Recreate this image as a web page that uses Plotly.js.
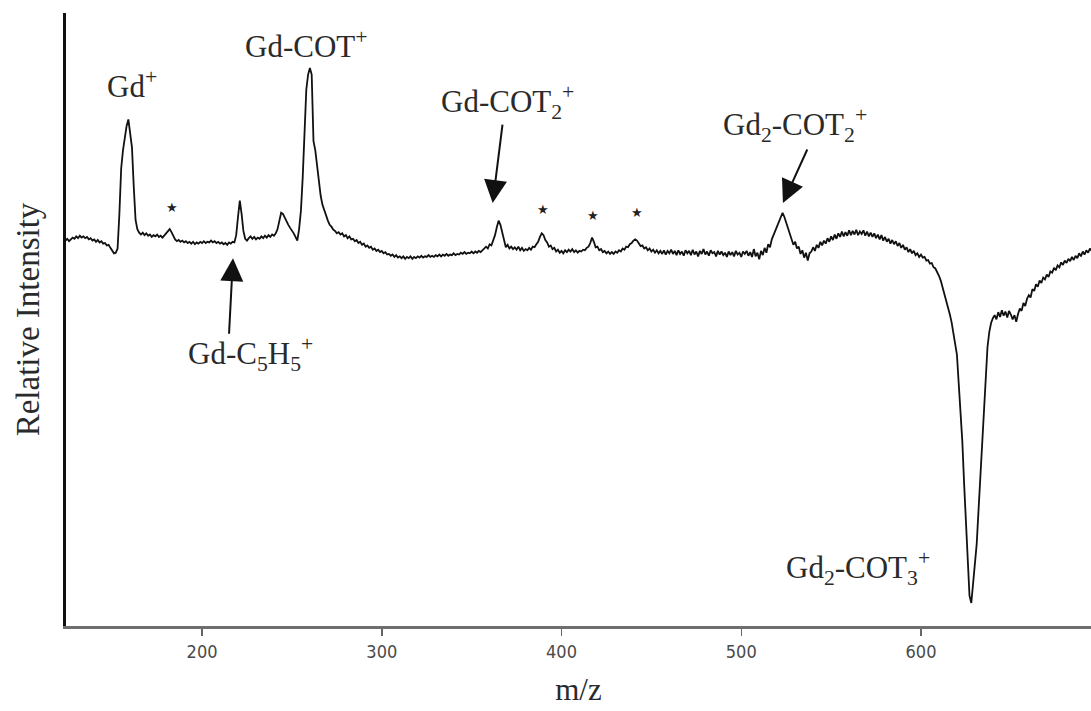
<!DOCTYPE html>
<html>
<head>
<meta charset="utf-8">
<script src="https://cdn.plot.ly/plotly-3.0.1.min.js"></script>
<style>
  html, body { margin: 0; padding: 0; background: #ffffff; }
  #chart { width: 1091px; height: 711px; }
</style>
</head>
<body>
<div id="chart"></div>
<script>
// Mass spectrum: m/z channel positions
const mz = [
  124, 125, 126, 127, 128, 129,
  130, 131, 132, 133, 134, 135, 136, 137, 138, 139,
  140, 141, 142, 143, 144, 145, 146, 147, 148, 149,
  150, 151, 152, 153, 154, 155, 156, 157, 158, 159,
  160, 161, 162, 163, 164, 165, 166, 167, 168, 169,
  170, 171, 172, 173, 174, 175, 176, 177, 178, 179,
  180, 181, 182, 183, 184, 185, 186, 187, 188, 189,
  190, 191, 192, 193, 194, 195, 196, 197, 198, 199,
  200, 201, 202, 203, 204, 205, 206, 207, 208, 209,
  210, 211, 212, 213, 214, 215, 216, 217, 218, 219,
  220, 221, 222, 223, 224, 225, 226, 227, 228, 229,
  230, 231, 232, 233, 234, 235, 236, 237, 238, 239,
  240, 241, 242, 243, 244, 245, 246, 247, 248, 249,
  250, 251, 252, 253, 254, 255, 256, 257, 258, 259,
  260, 261, 262, 263, 264, 265, 266, 267, 268, 269,
  270, 271, 272, 273, 274, 275, 276, 277, 278, 279,
  280, 281, 282, 283, 284, 285, 286, 287, 288, 289,
  290, 291, 292, 293, 294, 295, 296, 297, 298, 299,
  300, 301, 302, 303, 304, 305, 306, 307, 308, 309,
  310, 311, 312, 313, 314, 315, 316, 317, 318, 319,
  320, 321, 322, 323, 324, 325, 326, 327, 328, 329,
  330, 331, 332, 333, 334, 335, 336, 337, 338, 339,
  340, 341, 342, 343, 344, 345, 346, 347, 348, 349,
  350, 351, 352, 353, 354, 355, 356, 357, 358, 359,
  360, 361, 362, 363, 364, 365, 366, 367, 368, 369,
  370, 371, 372, 373, 374, 375, 376, 377, 378, 379,
  380, 381, 382, 383, 384, 385, 386, 387, 388, 389,
  390, 391, 392, 393, 394, 395, 396, 397, 398, 399,
  400, 401, 402, 403, 404, 405, 406, 407, 408, 409,
  410, 411, 412, 413, 414, 415, 416, 417, 418, 419,
  420, 421, 422, 423, 424, 425, 426, 427, 428, 429,
  430, 431, 432, 433, 434, 435, 436, 437, 438, 439,
  440, 441, 442, 443, 444, 445, 446, 447, 448, 449,
  450, 451, 452, 453, 454, 455, 456, 457, 458, 459,
  460, 461, 462, 463, 464, 465, 466, 467, 468, 469,
  470, 471, 472, 473, 474, 475, 476, 477, 478, 479,
  480, 481, 482, 483, 484, 485, 486, 487, 488, 489,
  490, 491, 492, 493, 494, 495, 496, 497, 498, 499,
  500, 501, 502, 503, 504, 505, 506, 507, 508, 509,
  510, 511, 512, 513, 514, 515, 516, 517, 518, 519,
  520, 521, 522, 523, 524, 525, 526, 527, 528, 529,
  530, 531, 532, 533, 534, 535, 536, 537, 538, 539,
  540, 541, 542, 543, 544, 545, 546, 547, 548, 549,
  550, 551, 552, 553, 554, 555, 556, 557, 558, 559,
  560, 561, 562, 563, 564, 565, 566, 567, 568, 569,
  570, 571, 572, 573, 574, 575, 576, 577, 578, 579,
  580, 581, 582, 583, 584, 585, 586, 587, 588, 589,
  590, 591, 592, 593, 594, 595, 596, 597, 598, 599,
  600, 601, 602, 603, 604, 605, 606, 607, 608, 609,
  610, 611, 612, 613, 614, 615, 616, 617, 618, 619,
  620, 621, 622, 623, 624, 625, 626, 627, 628, 629,
  630, 631, 632, 633, 634, 635, 636, 637, 638, 639,
  640, 641, 642, 643, 644, 645, 646, 647, 648, 649,
  650, 651, 652, 653, 654, 655, 656, 657, 658, 659,
  660, 661, 662, 663, 664, 665, 666, 667, 668, 669,
  670, 671, 672, 673, 674, 675, 676, 677, 678, 679,
  680, 681, 682, 683, 684, 685, 686, 687, 688, 689,
  690, 691, 692, 693, 694, 695
];

// Relative intensity (arbitrary units) for each m/z channel
const intensity = [
  63.6, 63.9, 63.5, 63.8, 64.1, 63.9,
  64.3, 64.0, 64.4, 64.1, 64.3, 64.0, 64.2, 63.8, 64.0, 63.6,
  63.8, 63.4, 63.7, 63.3, 63.5, 63.1, 63.2, 62.8, 62.9, 62.4,
  62.0, 61.5, 61.6, 62.3, 68.0, 75.5, 78.5, 80.5, 82.5, 83.6,
  81.5, 79.0, 72.5, 67.0, 65.5, 64.9, 64.6, 64.9, 64.5, 64.8,
  64.4, 64.6, 64.2, 64.5, 64.3, 64.6, 64.2, 64.4, 64.1, 64.5,
  64.8, 65.2, 65.5, 65.0, 64.4, 63.8, 63.5, 63.7, 63.4, 63.6,
  63.3, 63.5, 63.2, 63.4, 63.1, 63.4, 63.0, 63.3, 63.1, 63.4,
  63.2, 63.5, 63.2, 63.4, 63.3, 63.6, 63.3, 63.5, 63.2, 63.4,
  63.1, 63.3, 63.0, 63.2, 62.9, 63.3, 63.1, 63.4, 63.3, 64.5,
  67.5, 70.2, 68.0, 65.2, 63.9, 63.6, 64.0, 64.3, 63.9, 64.2,
  63.8, 64.1, 63.9, 64.3, 64.0, 64.4, 64.1, 64.5, 64.2, 64.6,
  64.4, 64.8, 65.5, 67.0, 68.2, 68.0, 67.3, 66.8, 66.2, 65.7,
  65.3, 64.8, 64.2, 63.6, 65.5, 68.5, 74.0, 81.0, 88.5, 91.0,
  92.1, 91.0, 80.0, 78.5, 76.0, 73.0, 71.0, 69.5, 68.5, 67.6,
  66.9, 66.2, 65.9, 65.4, 65.2, 64.8, 65.0, 64.6, 64.8, 64.3,
  64.5, 64.0, 64.3, 63.8, 63.9, 63.5, 63.7, 63.2, 63.4, 62.9,
  63.1, 62.6, 62.8, 62.4, 62.6, 62.1, 62.3, 61.9, 62.1, 61.7,
  61.9, 61.5, 61.7, 61.3, 61.4, 61.1, 61.3, 60.9, 61.2, 60.8,
  61.0, 60.7, 61.0, 60.6, 60.9, 60.7, 61.0, 60.6, 60.9, 60.7,
  61.0, 60.8, 61.1, 60.8, 61.0, 60.9, 61.2, 60.9, 61.1, 60.9,
  61.2, 61.0, 61.3, 61.0, 61.3, 61.1, 61.4, 61.1, 61.3, 61.2,
  61.5, 61.2, 61.4, 61.3, 61.6, 61.4, 61.7, 61.4, 61.6, 61.5,
  61.8, 61.5, 61.8, 61.6, 61.9, 61.7, 62.0, 62.2, 62.6, 62.3,
  63.0, 62.8, 63.6, 64.5, 65.8, 66.9, 66.2, 64.8, 63.4, 62.5,
  62.9, 62.3, 62.6, 62.2, 62.5, 62.1, 62.6, 62.0, 62.4, 61.9,
  62.2, 62.0, 62.4, 62.1, 62.6, 62.5, 63.0, 63.4, 64.2, 64.8,
  64.5, 63.7, 63.3, 62.6, 62.8, 62.2, 62.4, 61.8, 62.1, 61.6,
  61.9, 61.5, 62.0, 61.7, 62.1, 61.8, 62.2, 61.7, 62.0, 61.6,
  61.9, 61.8, 62.1, 62.0, 62.4, 62.6, 63.2, 64.1, 63.4, 62.5,
  62.6, 62.0, 62.2, 61.7, 61.9, 61.5, 61.8, 61.4, 61.7, 61.4,
  61.8, 61.6, 62.0, 61.8, 62.3, 62.1, 62.6, 62.5, 63.0, 63.2,
  63.6, 63.8, 63.6, 63.1, 62.7, 62.8, 62.3, 62.5, 62.0, 62.3,
  61.8, 62.1, 61.6, 62.0, 61.5, 61.9, 61.4, 62.0, 61.3, 61.9,
  61.5, 62.1, 61.4, 61.9, 61.2, 62.0, 61.4, 61.8, 61.1, 62.0,
  61.5, 61.9, 61.2, 62.1, 61.3, 61.8, 61.0, 61.9, 61.4, 62.2,
  61.3, 61.8, 61.1, 62.0, 61.5, 61.7, 61.0, 61.9, 61.3, 61.8,
  61.2, 61.6, 60.9, 61.8, 61.2, 61.7, 61.0, 61.9, 61.3, 61.6,
  60.9, 61.8, 61.4, 61.9, 61.1, 61.7, 60.9, 62.2, 61.0, 61.6,
  60.5, 61.9, 61.2, 62.4, 61.6, 63.0, 62.5, 63.8, 64.5, 65.3,
  66.0, 66.8, 67.6, 68.2, 67.5, 66.6, 65.8, 64.7, 64.0, 62.9,
  63.4, 62.3, 62.6, 61.4, 62.0, 60.8, 61.6, 60.3, 61.5, 61.8,
  62.5, 61.9, 62.9, 62.4, 63.4, 62.8, 63.6, 63.1, 64.0, 63.4,
  64.3, 63.7, 64.6, 63.9, 64.8, 64.2, 65.1, 64.3, 65.0, 64.4,
  65.3, 64.5, 65.2, 64.6, 65.4, 64.5, 65.1, 64.7, 65.3, 64.4,
  65.1, 64.3, 64.9, 64.2, 64.8, 64.0, 64.6, 63.8, 64.5, 63.6,
  64.2, 63.4, 63.9, 63.1, 63.7, 63.0, 63.5, 62.7, 63.2, 62.4,
  62.9, 62.1, 62.5, 61.7, 62.2, 61.5, 61.9, 61.2, 61.5, 60.9,
  61.3, 60.8, 60.9, 60.3, 60.4, 59.8, 59.9, 59.2, 59.0, 58.5,
  57.8, 57.0, 55.9, 55.0, 54.0, 52.8, 51.5, 50.2, 48.5, 46.8,
  44.8, 40.0, 35.5, 30.5, 23.5, 16.5, 10.0, 5.0, 3.8, 7.0,
  9.5, 13.5, 19.0, 24.5, 30.5, 36.5, 42.0, 46.0, 48.5, 50.0,
  50.8, 51.3, 50.6, 51.8, 51.0, 52.1, 51.2, 51.9, 50.9, 52.0,
  51.4, 50.6, 51.3, 50.2, 51.5, 52.4, 52.0, 53.3, 52.8, 54.0,
  54.6, 54.2, 55.6, 55.3, 56.4, 56.0, 57.0, 56.6, 57.5, 57.2,
  58.0, 57.6, 58.5, 58.3, 59.1, 58.7, 59.5, 59.2, 60.0, 59.6,
  60.3, 59.9, 60.6, 60.2, 60.9, 60.4, 61.1, 60.7, 61.5, 61.0,
  61.8, 61.3, 62.0, 61.6, 62.3, 61.9
];

// Axis ticks
const tickValues = [200, 300, 400, 500, 600];
const tickLabels = ['200', '300', '400', '500', '600'];

// Peak assignments
const peakLabels = [
  'Gd<sup>+</sup>',
  'Gd-COT<sup>+</sup>',
  'Gd-COT<sub>2</sub><sup>+</sup>',
  'Gd<sub>2</sub>-COT<sub>2</sub><sup>+</sup>',
  'Gd-C<sub>5</sub>H<sub>5</sub><sup>+</sup>',
  'Gd<sub>2</sub>-COT<sub>3</sub><sup>+</sup>'
];
const peakLabelMz = [161.1, 257.9, 369.7, 529.9, 226.7, 565.0];
const peakLabelY = [89.4, 95.9, 86.5, 82.7, 44.9, 9.6];

// Arrows pointing at the weaker assigned peaks
const arrowTipMz = [361.7, 523.2, 217.2];
const arrowTipY = [69.8, 69.8, 60.7];
const arrowTail = [[10, -80], [25, -55], [-4, 77]];

// Unassigned peaks marked with a star
const starMz = [183.3, 389.7, 417.5, 442.0];
const starY = [69.1, 68.8, 67.8, 68.2];

const serif = 'Liberation Serif, Times New Roman, serif';
const narrow = 'Liberation Sans Narrow, DejaVu Sans Condensed, Arial Narrow, Liberation Sans, sans-serif';

const annotations = [];
peakLabels.forEach((t, i) => {
  annotations.push({
    x: peakLabelMz[i], y: peakLabelY[i], xref: 'x', yref: 'y',
    text: t, showarrow: false,
    font: { family: serif, size: 31, color: '#2a2a2a' },
    xanchor: 'center', yanchor: 'middle'
  });
});
arrowTipMz.forEach((m, i) => {
  annotations.push({
    x: m, y: arrowTipY[i], xref: 'x', yref: 'y',
    text: '', showarrow: true,
    ax: arrowTail[i][0], ay: arrowTail[i][1],
    arrowhead: 2, arrowsize: 2.3, arrowwidth: 2, arrowcolor: '#111111',
    standoff: 0, startstandoff: 0
  });
});
starMz.forEach((m, i) => {
  annotations.push({
    x: m, y: starY[i], xref: 'x', yref: 'y',
    text: '\u2605', showarrow: false,
    font: { family: 'DejaVu Sans, sans-serif', size: 13, color: '#222222' },
    xanchor: 'center', yanchor: 'middle'
  });
});

const trace = {
  type: 'scatter',
  mode: 'lines',
  x: mz,
  y: intensity,
  line: { color: '#111111', width: 1.8 },
  hoverinfo: 'skip'
};

const layout = {
  width: 1091,
  height: 711,
  margin: { l: 66, r: 0, t: 13, b: 85 },
  paper_bgcolor: '#ffffff',
  plot_bgcolor: '#ffffff',
  showlegend: false,
  xaxis: {
    range: [124.3, 694.6],
    showgrid: false,
    zeroline: false,
    showline: true,
    linecolor: '#6e6e6e',
    linewidth: 3,
    ticks: 'outside',
    ticklen: 7,
    tickwidth: 1.5,
    tickcolor: '#666666',
    tickvals: tickValues,
    ticktext: tickLabels,
    tickfont: { family: narrow, size: 18, color: '#4a4a4a' },
    title: { text: 'm/z', font: { family: serif, size: 31, color: '#2a2a2a' }, standoff: 18 }
  },
  yaxis: {
    range: [0, 101.16],
    showgrid: false,
    zeroline: false,
    showline: true,
    linecolor: '#111111',
    linewidth: 3,
    ticks: '',
    showticklabels: false,
    title: { text: 'Relative Intensity', font: { family: serif, size: 33, color: '#2a2a2a' }, standoff: 14 }
  },
  annotations: annotations
};

Plotly.newPlot('chart', [trace], layout, { displayModeBar: false, staticPlot: true });
</script>
</body>
</html>
